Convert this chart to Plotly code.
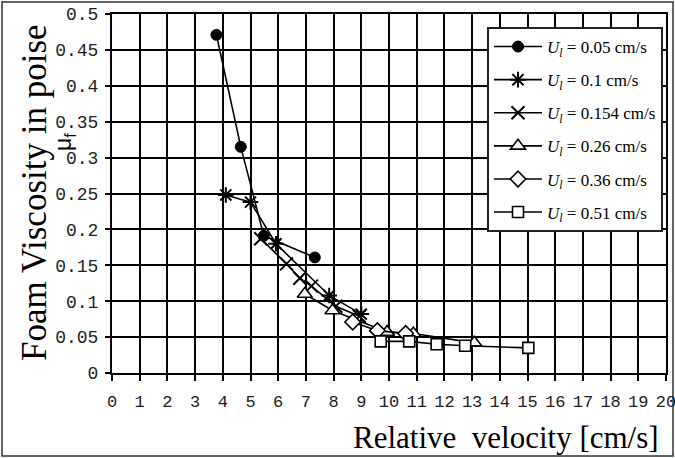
import plotly.graph_objects as go

# ---- data ----
labels = ["0.05", "0.1", "0.154", "0.26", "0.36", "0.51"]
x_005 = [3.77, 4.65, 5.48, 7.32]
y_005 = [0.471, 0.315, 0.191, 0.161]
x_010 = [4.11, 5.00, 5.92, 7.84, 9.00]
y_010 = [0.248, 0.238, 0.180, 0.108, 0.082]
x_0154 = [5.37, 6.30, 6.78, 7.20, 8.08, 8.93]
y_0154 = [0.187, 0.152, 0.132, 0.121, 0.093, 0.079]
x_026 = [6.96, 7.96, 9.93, 10.88, 13.08]
y_026 = [0.110, 0.087, 0.057, 0.055, 0.042]
x_036 = [8.69, 9.58, 10.60]
y_036 = [0.071, 0.059, 0.055]
x_051 = [9.70, 10.73, 11.72, 12.75, 15.03]
y_051 = [0.044, 0.044, 0.040, 0.038, 0.035]

xs = [x_005, x_010, x_0154, x_026, x_036, x_051]
ys = [y_005, y_010, y_0154, y_026, y_036, y_051]
styles = [
    dict(symbol="circle", size=11, color="black", line=dict(color="black", width=1)),
    dict(symbol="asterisk-open", size=13, color="black", line=dict(color="black", width=2)),
    dict(symbol="x-thin-open", size=13, color="black", line=dict(color="black", width=2)),
    dict(symbol="triangle-up", size=13, color="white", line=dict(color="black", width=1.6)),
    dict(symbol="diamond", size=12, color="white", line=dict(color="black", width=1.6)),
    dict(symbol="square", size=11, color="white", line=dict(color="black", width=1.6)),
]

SERIF = "Liberation Serif"
MONO = "Liberation Mono"

fig = go.Figure()
for lab, x, y, st in zip(labels, xs, ys, styles):
    fig.add_trace(go.Scatter(
        x=x, y=y, mode="lines+markers",
        name=f"<i>U</i><sub><i>l</i></sub> = {lab} cm/s",
        legendgroup=lab,
        line=dict(color="black", width=1.6),
        marker=st,
    ))

W, H = 675, 458
L, R, T, B = 112, 9, 14, 85
pw, ph = W - L - R, H - T - B

def px(xp):
    return (xp - L) / pw

def py(yp):
    return (H - B - yp) / ph

fig.update_layout(
    width=W, height=H,
    margin=dict(l=L, r=R, t=T, b=B, autoexpand=False),
    paper_bgcolor="white", plot_bgcolor="white",
    showlegend=True,
    legend=dict(
        x=px(487), y=py(27), xanchor="left", yanchor="top",
        bgcolor="white", bordercolor="#222", borderwidth=2,
        font=dict(family=SERIF, size=17, color="black"),
        tracegroupgap=8, itemwidth=48,
    ),
    xaxis=dict(
        range=[0, 20], dtick=1, tick0=0, automargin=False,
        showgrid=True, gridcolor="black", gridwidth=2,
        showline=True, linecolor="black", linewidth=2, mirror=True,
        ticks="outside", ticklen=6, tickwidth=2, tickcolor="black",
        ticklabelstandoff=6, ticklabeloverflow="allow",
        zeroline=False,
    ),
    yaxis=dict(
        range=[0, 0.5], dtick=0.05, tick0=0, automargin=False,
        showgrid=True, gridcolor="black", gridwidth=2,
        showline=True, linecolor="black", linewidth=2, mirror=True,
        ticks="outside", ticklen=5, tickwidth=2, tickcolor="black",
        ticklabelstandoff=3,
        zeroline=False,
    ),
    annotations=[
        dict(text="Relative  velocity [cm/s]", xref="paper", yref="paper",
             x=px(661), y=py(437), xanchor="right", yanchor="middle",
             showarrow=False,
             font=dict(family=SERIF, size=31, color="black")),
        dict(text="Foam Viscosity in poise", xref="paper", yref="paper",
             x=px(34), y=py(193), xanchor="center", yanchor="middle",
             textangle=-90, showarrow=False,
             font=dict(family=SERIF, size=35, color="black")),
        dict(text="μ<sub>f</sub>", xref="paper", yref="paper",
             x=px(64), y=py(142), xanchor="center", yanchor="middle",
             textangle=-90, showarrow=False,
             font=dict(family="Liberation Sans", size=23, color="black")),
    ],
    shapes=[
        dict(type="rect", xref="paper", yref="paper",
             x0=px(2), x1=px(673), y0=py(456), y1=py(2),
             line=dict(color="#333", width=1.5), fillcolor="rgba(0,0,0,0)",
             layer="below"),
    ],
)
fig.update_xaxes(tickfont_family=MONO, tickfont_size=17, tickfont_color="#222")
fig.update_yaxes(tickfont_family=MONO, tickfont_size=18, tickfont_color="#222")

fig.write_html("out.html")
